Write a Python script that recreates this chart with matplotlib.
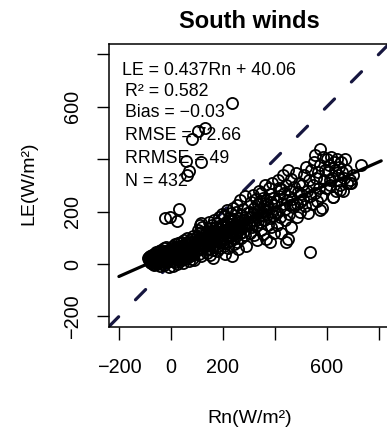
import matplotlib
matplotlib.use('Agg')
import matplotlib.pyplot as plt

# net radiation (Rn) and latent heat flux (LE), W/m2
rn = [-88, -85, -84, -82, -80, -79, -77, -76, -75, -73,
      -72, -70, -69, -68, -66, -65, -64, -62, -61, -60,
      -58, -57, -56, -55, -53, -52, -50, -49, -48, -46,
      -45, -44, -42, -41, -40, -38, -37, -36, -34, -33,
      -32, -30, -29, -28, -26, -25, -24, -22, -21, -20,
      -18, -17, -16, -14, -13, -12, -10, -9, -8, -6,
      1, 2, 3, 4, 5, 6, 7, 8, 9, 10,
      11, 12, 13, 14, 15, 16, 17, 18, 19, 20,
      21, 22, 23, 24, 25, 26, 27, 28, 29, 30,
      32, 33, 34, 35, 36, 38, 39, 40, 41, 42,
      44, 45, 46, 47, 48, 50, 51, 52, 53, 54,
      56, 57, 58, 59, 60, 62, 63, 64, 65, 66,
      68, 69, 70, 71, 72, 74, 75, 76, 77, 78,
      80, 81, 82, 83, 84, 86, 87, 88, 89, 90,
      101, 102, 103, 104, 105, 106, 107, 108, 109, 110,
      112, 113, 114, 115, 116, 118, 119, 120, 121, 122,
      136, 137, 138, 139, 140, 142, 143, 144, 145, 146,
      148, 149, 150, 151, 152, 154, 155, 156, 157, 158,
      160, 161, 162, 163, 164, 166, 167, 168, 169, 170,
      172, 173, 174, 176, 177, 178, 180, 181, 182, 184,
      185, 186, 188, 189, 190, 192, 193, 195, 197, 199,
      201, 202, 204, 205, 206, 208, 209, 210, 212, 213,
      214, 216, 217, 218, 220, 221, 222, 224, 225, 226,
      228, 229, 230, 232, 233, 234, 236, 237, 238, 240,
      241, 242, 244, 245, 246, 248, 249, 250, 252, 253,
      254, 256, 257, 258, 260, 262, 264, 265, 266, 268,
      270, 272, 274, 275, 276, 278, 280, 282, 284, 285,
      286, 288, 290, 292,
      302, 304, 306, 308, 310, 312, 314, 316, 318, 320,
      322, 324, 326, 328, 330, 332, 334, 336, 338, 340,
      342, 344, 346, 348, 350, 352, 354, 356, 358, 360,
      362, 364, 366, 368, 370, 372, 374, 376, 378, 380,
      382, 384, 386, 388, 390, 392, 394, 396, 398, 400,
      404, 408, 412, 416, 420, 424, 428, 432, 436, 440,
      444, 448, 452, 456, 460, 464, 468, 472, 476, 480,
      484, 488, 492, 496, 500, 410, 426, 438, 450, 462,
      474, 486, 498, 418, 458,
      504, 508, 512, 516, 520, 524, 528, 532, 536, 540,
      544, 548, 552, 556, 560, 564, 568, 572, 576, 580,
      584, 588, 592, 596, 600,
      604, 608, 612, 616, 620, 624, 628, 632, 636, 640,
      644, 648, 652, 656, 660, 664, 668, 672, 676, 680,
      690, 700,
      237, 131, 105, 83, 60, 118, 70, 63, 535, 733,
      695, -23, -4, 32, 24, 115, 573, 554, 442, 381,
      573, 688, 650, 623, 581, 611]

le = [22, 15, 28, 8, 30, 18, 5, 25, 12, 35,
      20, 2, 28, 14, 40, -3, 22, 32, 10, 18,
      45, 6, 26, 36, 0, 15, 42, 24, 8, 30,
      50, 12, 20, -8, 38, 28, 55, 16, 4, 33,
      46, 22, 10, 60, 26, -5, 38, 18, 48, 30,
      12, 65, 24, 40, 8, 32, 52, -10, 20, 44,
      30, 52, 12, 44, 62, 24, 36, -6, 48, 70,
      18, 40, 58, 28, 8, 46, 76, 34, 54, 22,
      64, 38, 2, 50, 30, 80, 44, 16, 60, 36,
      26, 68, 48, 10, 56, 40, 86, 30, 62, 20,
      50, 74, 36, 6, 58, 44, 92, 28, 66, 40,
      18, 54, 80, 34, 60, 100, 46, 24, 70, 52,
      38, 88, 12, 62, 44, 76, 30, 96, 56, 40,
      68, 20, 84, 50, 106, 36, 64, 74, 14, 58,
      70, 104, 52, 88, 130, 60, 96, 40, 118, 78,
      150, 66, 100, 30, 84, 124, 56, 92, 140, 74,
      68, 104, 90, 42, 126, 76, 110, 58, 160, 94,
      84, 120, 34, 100, 72, 136, 88, 112, 54, 150,
      96, 128, 64, 106, 24, 118, 84, 170, 98, 140,
      76, 110, 128, 50, 92, 156, 102, 120, 70, 138,
      86, 180, 112, 60, 124, 96, 148, 106, 190, 80,
      110, 150, 70, 132, 182, 96, 124, 40, 160, 118,
      140, 84, 206, 120, 152, 60, 134, 104, 176, 142,
      90, 128, 196, 112, 154, 30, 138, 166, 100, 214,
      124, 146, 78, 172, 118, 150, 200, 108, 136, 164,
      86, 226, 128, 150, 56, 176, 140, 120, 244, 160,
      100, 188, 136, 154, 210, 122, 170, 144, 258, 112,
      180, 148, 70, 196,
      150, 200, 120, 180, 236, 166, 140, 262, 190, 110,
      214, 170, 250, 146, 196, 92, 230, 178, 280, 206,
      160, 240, 130, 272, 198, 186, 254, 116, 220, 168,
      300, 204, 96, 246, 186, 228, 150, 290, 210, 176,
      266, 140, 236, 200, 310, 182, 252, 120, 224, 196,
      240, 200, 320, 260, 180, 286, 230, 340, 270, 210,
      300, 246, 360, 190, 280, 326, 250, 216, 296, 348,
      230, 276, 310, 200, 266, 150, 120, 170, 96, 140,
      226, 180, 238, 292, 226,
      300, 250, 340, 220, 370, 280, 196, 320, 260, 360,
      230, 300, 390, 270, 330, 240, 350, 290, 380, 260,
      410, 320, 360, 290, 400,
      350, 380, 300, 410, 330, 256, 390, 360, 280, 400,
      340, 370, 300, 390, 350, 280, 330, 400, 360, 310,
      320, 340,
      616, 518, 509, 476, 393, 390, 355, 340, 46, 380,
      308, 174, 178, 209, 165, 158, 441, 416, 85, 83,
      206, 309, 282, 256, 214, 320]

slope, intercept = 0.437, 40.06
stats = ['R\u00b2 = 0.582', 'Bias = \u22120.03', 'RMSE = 72.66', 'RRMSE = 49']
ticks = [-200, 0, 200, 400, 600, 800]
ticklabels = ['\u2212200', '0', '200', '', '600', '']

plt.rcParams['font.family'] = ['Liberation Sans', 'DejaVu Sans']

fig = plt.figure(figsize=(3.87, 4.32), dpi=100)
ax = fig.add_axes([0.2804, 0.2431, 0.7248, 0.6551])

# 1:1 line
ax.plot([-240, 840], [-240, 840], color='#16163f', lw=2.3,
        dashes=(4.5, 7.5), dash_capstyle='round', zorder=1)
ax.plot(rn, le, 'o', mfc='none', mec='black', ms=8, mew=1.3, zorder=2)

# fitted line
fx = [-200, 810]
ax.plot(fx, [slope * v + intercept for v in fx], color='black', lw=2.3,
        solid_capstyle='round', zorder=3)

ax.text(-187, 721, 'LE = %.3fRn + %.2f' % (slope, intercept), fontsize=12.8)
for i, s in enumerate(stats):
    ax.text(-177, [641, 560, 474, 387][i], s, fontsize=12.8)
ax.text(-177, 299, 'N = %d' % len(rn), fontsize=12.8)

ax.set_xlim(-240, 840)
ax.set_ylim(-240, 840)
ax.set_xticks(ticks)
ax.set_xticklabels(ticklabels, fontsize=14.3)
ax.set_yticks(ticks)
ax.set_yticklabels(ticklabels, fontsize=14.3, rotation=90, va='center')
ax.tick_params(axis='x', length=9, width=1.0, pad=13.5)
ax.tick_params(axis='y', length=9, width=1.0, pad=10)
for sp in ax.spines.values():
    sp.set_linewidth(1.1)

fig.text(249.5 / 387, (432 - 28) / 432, 'South winds', fontsize=17,
         fontweight='bold', ha='center', va='baseline')
fig.text(249.5 / 387, (432 - 423.3) / 432, 'Rn(W/m\u00b2)', fontsize=14,
         ha='center', va='baseline')
fig.text(33.3 / 387, (432 - 183.5) / 432, 'LE(W/m\u00b2)', fontsize=14,
         rotation=90, rotation_mode='anchor', ha='center', va='baseline')

fig.savefig('out.png', dpi=100)
